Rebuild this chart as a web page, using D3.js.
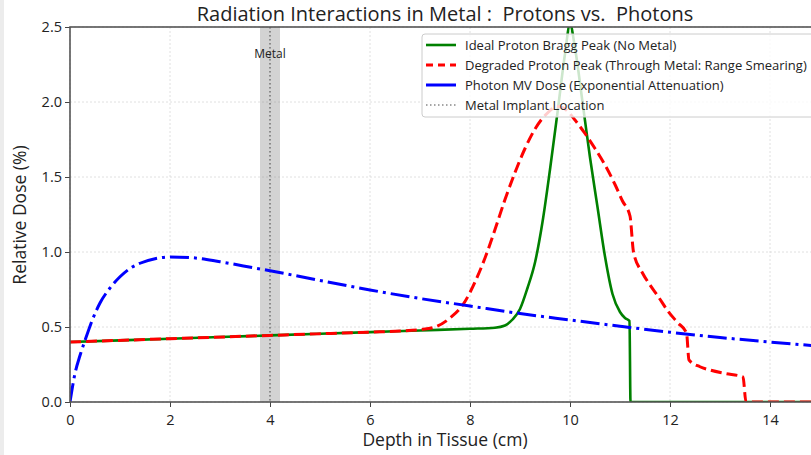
<!DOCTYPE html>
<html lang="en">
<head>
<meta charset="UTF-8">
<title>Radiation Interactions in Metal</title>
<script src="https://cdn.jsdelivr.net/npm/d3@7"></script>
<style>
body { margin: 0; background: #fff; font-family: 'Open Sans', 'Roboto', sans-serif; }
svg { display: block; }
</style>
</head>
<body>
<svg id="chart" width="811" height="455"></svg>
<script>
// values
const xTicks = [0, 2, 4, 6, 8, 10, 12, 14];
const yTicks = [0, 0.5, 1.0, 1.5, 2.0, 2.5];

const idealProton = [
  [0, 0.40], [2, 0.422], [4, 0.444], [6, 0.466], [7, 0.477], [8, 0.488],
  [8.5, 0.495], [8.7, 0.51], [8.85, 0.55], [9.0, 0.62], [9.15, 0.76],
  [9.3, 0.93], [9.45, 1.2], [9.6, 1.55], [9.75, 1.93], [9.9, 2.32],
  [10.0, 2.52], [10.1, 2.36], [10.25, 2.0], [10.4, 1.63], [10.55, 1.3],
  [10.7, 0.97], [10.85, 0.72], [11.0, 0.6], [11.1, 0.56], [11.19, 0.54],
  [11.21, 0], [15, 0]
];

const degradedProton = [
  [0, 0.40], [2, 0.422], [4, 0.444], [6, 0.466], [6.6, 0.473], [7.0, 0.482],
  [7.3, 0.50], [7.6, 0.56], [7.9, 0.67], [8.1, 0.8], [8.3, 0.96], [8.5, 1.15],
  [8.7, 1.35], [8.9, 1.53], [9.1, 1.69], [9.3, 1.82], [9.5, 1.91], [9.75, 1.97],
  [9.95, 1.94], [10.1, 1.88], [10.3, 1.79], [10.5, 1.69], [10.7, 1.58],
  [10.9, 1.45], [11.05, 1.34], [11.2, 1.24], [11.27, 1.0], [11.45, 0.86],
  [11.6, 0.78], [11.77, 0.70], [11.95, 0.61], [12.15, 0.53], [12.33, 0.46],
  [12.38, 0.28], [12.6, 0.235], [12.8, 0.213], [13.1, 0.19], [13.46, 0.167],
  [13.52, 0], [15, 0]
];

const photonDose = [
  [0, 0], [0.1, 0.19], [0.2, 0.31], [0.3, 0.41], [0.45, 0.55], [0.6, 0.66],
  [0.8, 0.76], [1.0, 0.835], [1.2, 0.89], [1.4, 0.925], [1.7, 0.955],
  [2.0, 0.967], [2.4, 0.963], [3.0, 0.935], [3.7, 0.893], [4.0, 0.875],
  [5.0, 0.81], [6.0, 0.747], [7.0, 0.69], [8.0, 0.64], [9.0, 0.59],
  [10.0, 0.547], [11.0, 0.505], [12.0, 0.465], [13.0, 0.43], [14.0, 0.40],
  [15.0, 0.372]
];

const metalPos = 4;
const metalBand = [3.8, 4.2];

const legendLabels = [
  "Ideal Proton Bragg Peak (No Metal)",
  "Degraded Proton Peak (Through Metal: Range Smearing)",
  "Photon MV Dose (Exponential Attenuation)",
  "Metal Implant Location"
];

const svg = d3.select("#chart");
const margin = { left: 70, top: 27, right: 820, bottom: 402 };

const x = d3.scaleLinear().domain([0, 15]).range([margin.left, margin.right]);
const y = d3.scaleLinear().domain([0, 2.5]).range([margin.bottom, margin.top]);

// faint screenshot edge on the left
svg.append("rect").attr("x", 0).attr("y", 0).attr("width", 4).attr("height", 455)
  .attr("fill", "#ececec");

svg.append("defs").append("clipPath").attr("id", "plotClip")
  .append("rect")
  .attr("x", margin.left).attr("y", margin.top)
  .attr("width", margin.right - margin.left).attr("height", margin.bottom - margin.top);

// grid
const grid = svg.append("g");
grid.selectAll(".gx").data(xTicks).join("line")
  .attr("x1", d => x(d)).attr("x2", d => x(d))
  .attr("y1", margin.top).attr("y2", margin.bottom)
  .attr("stroke", "#d8d8d8").attr("stroke-width", 0.8).attr("stroke-dasharray", "2,2");
grid.selectAll(".gy").data(yTicks).join("line")
  .attr("x1", margin.left).attr("x2", margin.right)
  .attr("y1", d => y(d)).attr("y2", d => y(d))
  .attr("stroke", "#d8d8d8").attr("stroke-width", 0.8).attr("stroke-dasharray", "2,2");

// metal band + location line
svg.append("rect")
  .attr("x", x(metalBand[0])).attr("y", margin.top)
  .attr("width", x(metalBand[1]) - x(metalBand[0]))
  .attr("height", margin.bottom - margin.top)
  .attr("fill", "#808080").attr("fill-opacity", 0.35);
svg.append("line")
  .attr("x1", x(metalPos)).attr("x2", x(metalPos))
  .attr("y1", margin.top).attr("y2", margin.bottom)
  .attr("stroke", "#777").attr("stroke-width", 1.5).attr("stroke-dasharray", "1.5,2.5");
svg.append("text")
  .attr("x", x(metalPos)).attr("y", 58)
  .attr("text-anchor", "middle").attr("font-size", 12).attr("fill", "#222")
  .text("Metal");

// curves
const line = d3.line().x(d => x(d[0])).y(d => y(d[1])).curve(d3.curveMonotoneX);
const plot = svg.append("g").attr("clip-path", "url(#plotClip)");

plot.append("path").datum(idealProton).attr("d", line)
  .attr("fill", "none").attr("stroke", "green").attr("stroke-width", 2.6);
plot.append("path").datum(degradedProton).attr("d", line)
  .attr("fill", "none").attr("stroke", "red").attr("stroke-width", 3)
  .attr("stroke-dasharray", "11,5");
plot.append("path").datum(photonDose).attr("d", line)
  .attr("fill", "none").attr("stroke", "blue").attr("stroke-width", 3)
  .attr("stroke-dasharray", "19,5,3,5");

// axes
const xAxis = svg.append("g").attr("transform", `translate(0,${margin.bottom})`)
  .call(d3.axisBottom(x).tickValues(xTicks).tickSize(5).tickFormat(d3.format("d")));
const yAxis = svg.append("g").attr("transform", `translate(${margin.left},0)`)
  .call(d3.axisLeft(y).tickValues(yTicks).tickSize(5).tickFormat(d3.format(".1f")));
[xAxis, yAxis].forEach(a => {
  a.select(".domain").remove();
  a.selectAll("line").attr("stroke", "#444");
  a.selectAll("text").attr("font-size", 14.5).attr("fill", "#222")
    .attr("font-family", "'Open Sans', sans-serif");
});
xAxis.selectAll("text").attr("dy", "1.0em");

// frame
svg.append("rect")
  .attr("x", margin.left).attr("y", margin.top)
  .attr("width", margin.right - margin.left).attr("height", margin.bottom - margin.top)
  .attr("fill", "none").attr("stroke", "#555").attr("stroke-width", 1.6);

// labels
svg.append("text").attr("x", 445).attr("y", 21).attr("text-anchor", "middle")
  .attr("font-size", 20).attr("fill", "#222")
  .style("white-space", "pre")
  .text("Radiation Interactions in Metal :  Protons vs.  Photons");
svg.append("text").attr("x", 445).attr("y", 446).attr("text-anchor", "middle")
  .attr("font-size", 17.5).attr("fill", "#222").text("Depth in Tissue (cm)");
svg.append("text").attr("transform", "translate(26,215) rotate(-90)")
  .attr("text-anchor", "middle").attr("font-size", 17.5).attr("fill", "#222")
  .text("Relative Dose (%)");

// legend
const legend = svg.append("g");
legend.append("rect")
  .attr("x", 422).attr("y", 34).attr("width", 420).attr("height", 83).attr("rx", 3)
  .attr("fill", "#fff").attr("fill-opacity", 0.8)
  .attr("stroke", "#ccc").attr("stroke-width", 1);
const legendStyles = [
  { color: "green", width: 2.6, dash: null },
  { color: "red", width: 3, dash: "7,5" },
  { color: "blue", width: 3, dash: null },
  { color: "#888", width: 1.5, dash: "1.5,2.5" }
];
legendLabels.forEach((lab, i) => {
  const ly = 45 + i * 20;
  const st = legendStyles[i];
  legend.append("line").attr("x1", 426).attr("x2", 456).attr("y1", ly).attr("y2", ly)
    .attr("stroke", st.color).attr("stroke-width", st.width)
    .attr("stroke-dasharray", st.dash);
  legend.append("text").attr("x", 465).attr("y", ly + 4.5)
    .attr("font-size", 13).attr("fill", "#222").text(lab);
});
</script>
</body>
</html>
